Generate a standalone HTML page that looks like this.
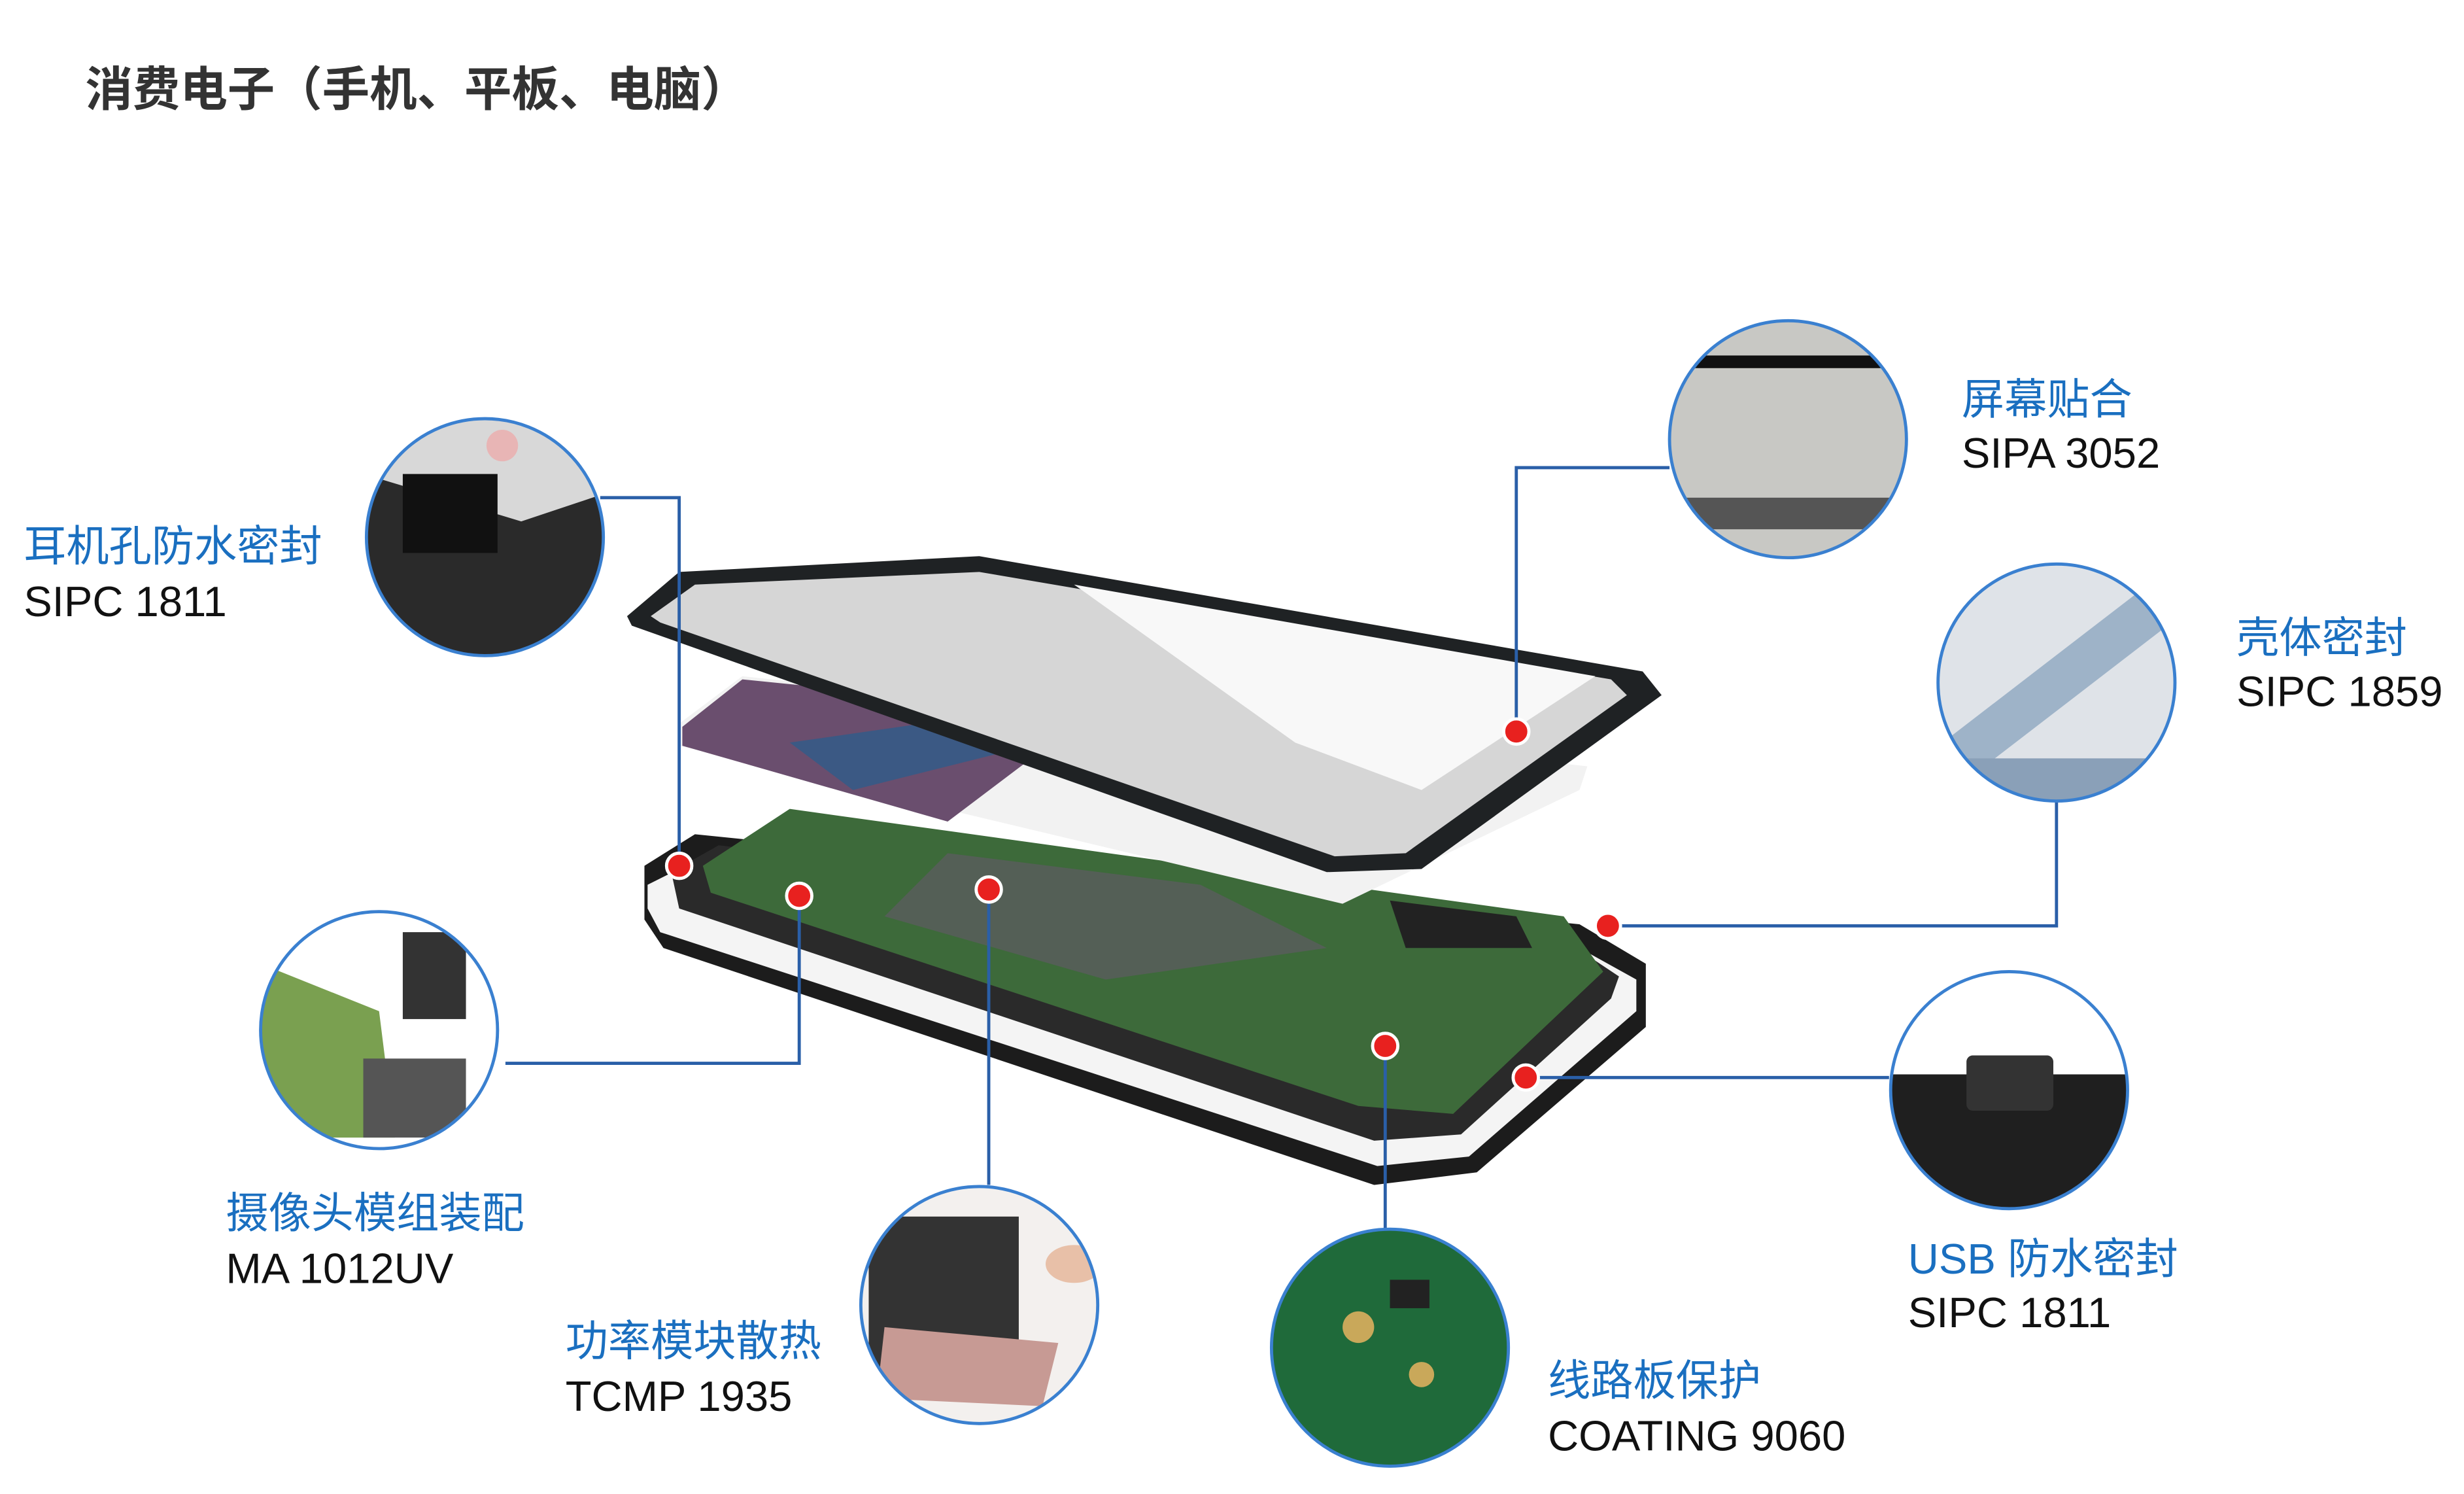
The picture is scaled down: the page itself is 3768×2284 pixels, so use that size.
<!DOCTYPE html>
<html><head><meta charset="utf-8"><style>
html,body{margin:0;padding:0;background:#fff;}
svg{display:block;}
text{font-family:"Liberation Sans","Noto Sans CJK SC",sans-serif;}
</style></head><body>
<svg width="3768" height="2284" viewBox="0 0 1560 945.6" preserveAspectRatio="none" xmlns="http://www.w3.org/2000/svg">
<rect width="1560" height="945.6" fill="#fff"/>
<text x="54" y="67" font-size="30" font-weight="bold" fill="#333">消费电子（手机、平板、电脑）</text>

<polygon points="408,548 440,528 1000,585 1042,610 1042,650 935,742 870,750 420,600 408,582" fill="#1c1c1c"/>
<polygon points="410,560 440,545 1000,600 1036,620 1036,640 930,732 872,738 418,590 410,575" fill="#f4f4f4"/>
<polygon points="425,552 455,535 995,598 1025,618 1020,632 925,718 870,722 430,575" fill="#2a2a2a"/>
<polygon points="445,548 500,512 990,580 1015,615 920,705 860,700 450,565" fill="#3d6a3a"/>
<polygon points="600,540 760,560 840,600 700,620 560,580" fill="#5a5d5e" opacity="0.8"/>
<polygon points="880,570 960,580 970,600 890,600" fill="#222"/>
<polygon points="430,458 470,428 1005,485 1000,500 850,572 430,472" fill="#f2f2f2"/>
<polygon points="432,460 470,430 690,452 600,520 432,472" fill="#6a4e6e"/>
<polygon points="500,470 640,450 660,470 540,500" fill="#2f5c8a" opacity="0.8"/>
<polygon points="397,390 430,362 620,352 1040,425 1052,440 900,550 840,552 400,396" fill="#1f2224"/>
<polygon points="412,390 440,370 620,362 1020,430 1030,440 890,540 845,542 418,394" fill="#d6d6d6"/>
<polygon points="680,370 1010,428 900,500 820,470" fill="#f8f8f8"/>

<g stroke="#2a5fa8" stroke-width="2" fill="none">
<polyline points="380,315 430,315 430,548"/>
<polyline points="1057,296 960,296 960,463"/>
<polyline points="1302,507 1302,586 1018,586"/>
<polyline points="320,673 506,673 506,567"/>
<polyline points="626,563 626,750"/>
<polyline points="877,662 877,778"/>
<polyline points="966,682 1196,682"/>
</g>
<g fill="#e8211f" stroke="#fff" stroke-width="2">
<circle cx="430" cy="548" r="8"/><circle cx="506" cy="567" r="8"/><circle cx="626" cy="563" r="8"/>
<circle cx="960" cy="463" r="8"/><circle cx="1018" cy="586" r="8"/><circle cx="877" cy="662" r="8"/><circle cx="966" cy="682" r="8"/>
</g>

<defs>
<clipPath id="c1"><circle cx="307" cy="340" r="75"/></clipPath>
<clipPath id="c2"><circle cx="1132" cy="278" r="75"/></clipPath>
<clipPath id="c3"><circle cx="1302" cy="432" r="75"/></clipPath>
<clipPath id="c4"><circle cx="240" cy="652" r="75"/></clipPath>
<clipPath id="c5"><circle cx="1272" cy="690" r="75"/></clipPath>
<clipPath id="c6"><circle cx="620" cy="826" r="75"/></clipPath>
<clipPath id="c7"><circle cx="880" cy="853" r="75"/></clipPath>
</defs>
<g clip-path="url(#c1)"><rect x="230" y="265" width="160" height="160" fill="#d8d8d8"/><polygon points="230,300 330,330 390,310 390,420 230,420" fill="#2a2a2a"/><rect x="255" y="300" width="60" height="50" fill="#111"/><circle cx="318" cy="282" r="10" fill="#e8b5b5"/></g>
<g clip-path="url(#c2)"><rect x="1055" y="200" width="160" height="160" fill="#c8c8c4"/><rect x="1055" y="225" width="160" height="8" fill="#111"/><rect x="1055" y="315" width="160" height="20" fill="#555"/></g>
<g clip-path="url(#c3)"><rect x="1225" y="355" width="160" height="160" fill="#dfe3e8"/><polygon points="1230,470 1360,370 1380,390 1250,490" fill="#9eb3c8"/><polygon points="1225,480 1385,480 1385,520 1225,520" fill="#8aa0b8"/></g>
<g clip-path="url(#c4)"><rect x="163" y="575" width="160" height="160" fill="#fff"/><polygon points="165,610 240,640 250,720 165,720" fill="#7aa050"/><rect x="255" y="590" width="40" height="55" fill="#333"/><rect x="230" y="670" width="65" height="50" fill="#555"/></g>
<g clip-path="url(#c5)"><rect x="1195" y="612" width="160" height="160" fill="#fff"/><rect x="1195" y="680" width="160" height="90" fill="#1f1f1f"/><rect x="1245" y="668" width="55" height="35" rx="4" fill="#333"/></g>
<g clip-path="url(#c6)"><rect x="543" y="748" width="160" height="160" fill="#f3f0ee"/><rect x="550" y="770" width="95" height="110" fill="#333"/><polygon points="560,840 670,850 660,890 555,885" fill="#c79a94"/><ellipse cx="680" cy="800" rx="18" ry="12" fill="#e8c0a8"/></g>
<g clip-path="url(#c7)"><rect x="803" y="776" width="160" height="160" fill="#1f6a3a"/><circle cx="860" cy="840" r="10" fill="#c9a85a"/><circle cx="900" cy="870" r="8" fill="#c9a85a"/><rect x="880" y="810" width="25" height="18" fill="#222"/></g>
<g fill="none" stroke="#3a80d0" stroke-width="2">
<circle cx="307" cy="340" r="75"/><circle cx="1132" cy="278" r="75"/><circle cx="1302" cy="432" r="75"/>
<circle cx="240" cy="652" r="75"/><circle cx="1272" cy="690" r="75"/><circle cx="620" cy="826" r="75"/><circle cx="880" cy="853" r="75"/>
</g>

<g font-size="27">
<text x="15" y="355" fill="#1a6fc0">耳机孔防水密封</text><text x="15" y="390" fill="#111">SIPC 1811</text>
<text x="1242" y="262" fill="#1a6fc0">屏幕贴合</text><text x="1242" y="296" fill="#111">SIPA 3052</text>
<text x="1416" y="413" fill="#1a6fc0">壳体密封</text><text x="1416" y="447" fill="#111">SIPC 1859</text>
<text x="143" y="777" fill="#1a6fc0">摄像头模组装配</text><text x="143" y="812" fill="#111">MA 1012UV</text>
<text x="358" y="858" fill="#1a6fc0">功率模块散热</text><text x="358" y="893" fill="#111">TCMP 1935</text>
<text x="980" y="883" fill="#1a6fc0">线路板保护</text><text x="980" y="918" fill="#111">COATING 9060</text>
<text x="1208" y="806" fill="#1a6fc0">USB 防水密封</text><text x="1208" y="840" fill="#111">SIPC 1811</text>
</g>
</svg>
</body></html>
